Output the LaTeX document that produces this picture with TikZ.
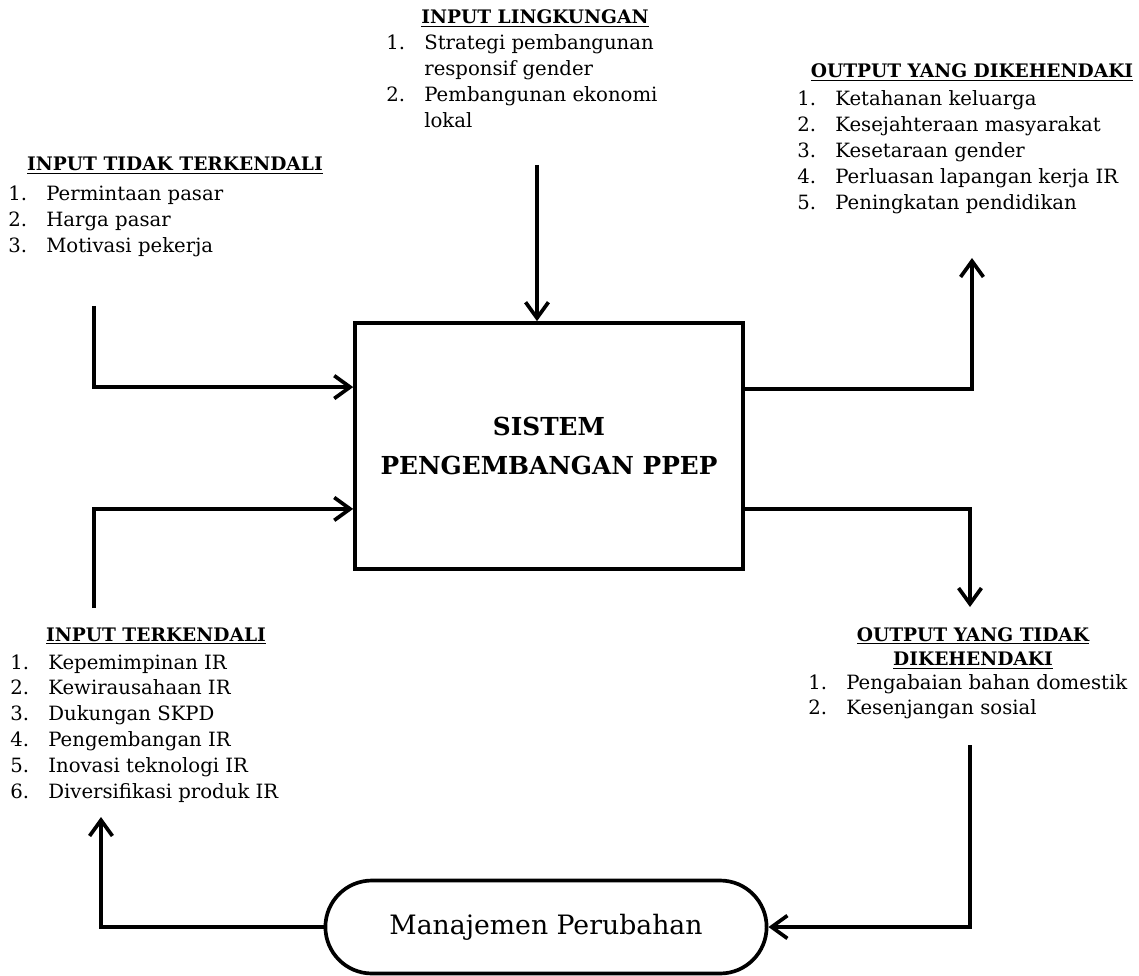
\documentclass[tikz,border=0pt]{standalone}
\usepackage{fontspec}
\setmainfont{DejaVu Serif}
\usetikzlibrary{arrows.meta,calc,shapes.misc}
\newcommand{\listsize}{\fontsize{11.2}{14.7}\selectfont}
\newcommand{\headsize}{\fontsize{10.6}{14.2}\selectfont\bfseries}

\begin{document}
\begin{tikzpicture}[x=0.02cm, y=-0.02cm,
  heading/.style={font=\headsize, inner sep=0pt, anchor=base},
  itemlist/.style={font=\listsize, inner sep=0pt, anchor=base west},
  flow/.style={line width=2.1pt},
  flowarrow/.style={flow, -{Straight Barb[length=9pt, width=13pt]}}]

\useasboundingbox (0,0) rectangle (1139,976);

% === Central system ===
\node[draw, line width=2.1pt, minimum width=7.76cm, minimum height=4.92cm,
  align=center, font=\fontsize{14.1}{22.7}\selectfont\bfseries] (sys) at (549,446)
  {SISTEM\\PENGEMBANGAN PPEP};

% === Change management ===
\node[draw, rounded rectangle, line width=2.1pt, minimum width=9.06cm,
  minimum height=1.86cm, font=\fontsize{15.2}{20}\selectfont] (mgmt) at (546,927)
  {Manajemen Perubahan};

% === Input lingkungan ===
\node[heading] (envhead) at (535,24) {\underline{INPUT LINGKUNGAN}};
\node[itemlist] (envlist) at (386,50) {\begin{tabular}[t]{@{}p{0.76cm}@{}l@{}}
  1. & Strategi pembangunan\\
     & responsif gender\\
  2. & Pembangunan ekonomi\\
     & lokal
\end{tabular}};

% === Input tidak terkendali ===
\node[heading] (unchead) at (175,171) {\underline{INPUT TIDAK TERKENDALI}};
\node[itemlist] (unclist) at (8,201) {\begin{tabular}[t]{@{}p{0.76cm}@{}l@{}}
  1. & Permintaan pasar\\
  2. & Harga pasar\\
  3. & Motivasi pekerja
\end{tabular}};

% === Input terkendali ===
\node[heading] (ctrhead) at (156,641) {\underline{INPUT TERKENDALI}};
\node[itemlist] (ctrlist) at (10,669) {\begin{tabular}[t]{@{}p{0.76cm}@{}l@{}}
  1. & Kepemimpinan IR\\
  2. & Kewirausahaan IR\\
  3. & Dukungan SKPD\\
  4. & Pengembangan IR\\
  5. & Inovasi teknologi IR\\
  6. & Diversifikasi produk IR
\end{tabular}};

% === Output yang dikehendaki ===
\node[heading] (goodhead) at (972,78) {\underline{OUTPUT YANG DIKEHENDAKI}};
\node[itemlist] (goodlist) at (797,106) {\begin{tabular}[t]{@{}p{0.76cm}@{}l@{}}
  1. & Ketahanan keluarga\\
  2. & Kesejahteraan masyarakat\\
  3. & Kesetaraan gender\\
  4. & Perluasan lapangan kerja IR\\
  5. & Peningkatan pendidikan
\end{tabular}};

% === Output yang tidak dikehendaki ===
\node[heading] (badhead) at (973,641) {\begin{tabular}[t]{@{}c@{}}
  \underline{OUTPUT YANG TIDAK}\\
  \underline{DIKEHENDAKI}
\end{tabular}};
\node[itemlist] (badlist) at (808,689) {\begin{tabular}[t]{@{}p{0.76cm}@{}l@{}}
  1. & Pengabaian bahan domestik\\
  2. & Kesenjangan sosial
\end{tabular}};

% === Free ends of the connectors ===
\coordinate (envstart) at (537,165);
\coordinate (uncstart) at (94,306);
\coordinate (ctrstart) at (94,608);
\coordinate (goodend) at (972,258);
\coordinate (badend) at (970,607);
\coordinate (fbstart) at (970,745);
\coordinate (fbend) at (101,817);

\coordinate (in1) at ($(sys.north west)!0.264!(sys.south west)$);
\coordinate (in2) at ($(sys.north west)!0.752!(sys.south west)$);
\coordinate (out1) at ($(sys.north east)!0.272!(sys.south east)$);
\coordinate (out2) at ($(sys.north east)!0.752!(sys.south east)$);

% === Connectors ===
\draw[flowarrow] (envstart) -- (envstart |- sys.north);
\draw[flowarrow] (uncstart) |- (in1);
\draw[flowarrow] (ctrstart) |- (in2);
\draw[flowarrow] (out1) -| (goodend);
\draw[flowarrow] (out2) -| (badend);
\draw[flowarrow] (fbstart) |- (mgmt.east);
\draw[flowarrow] (mgmt.west) -| (fbend);

\end{tikzpicture}
\end{document}
